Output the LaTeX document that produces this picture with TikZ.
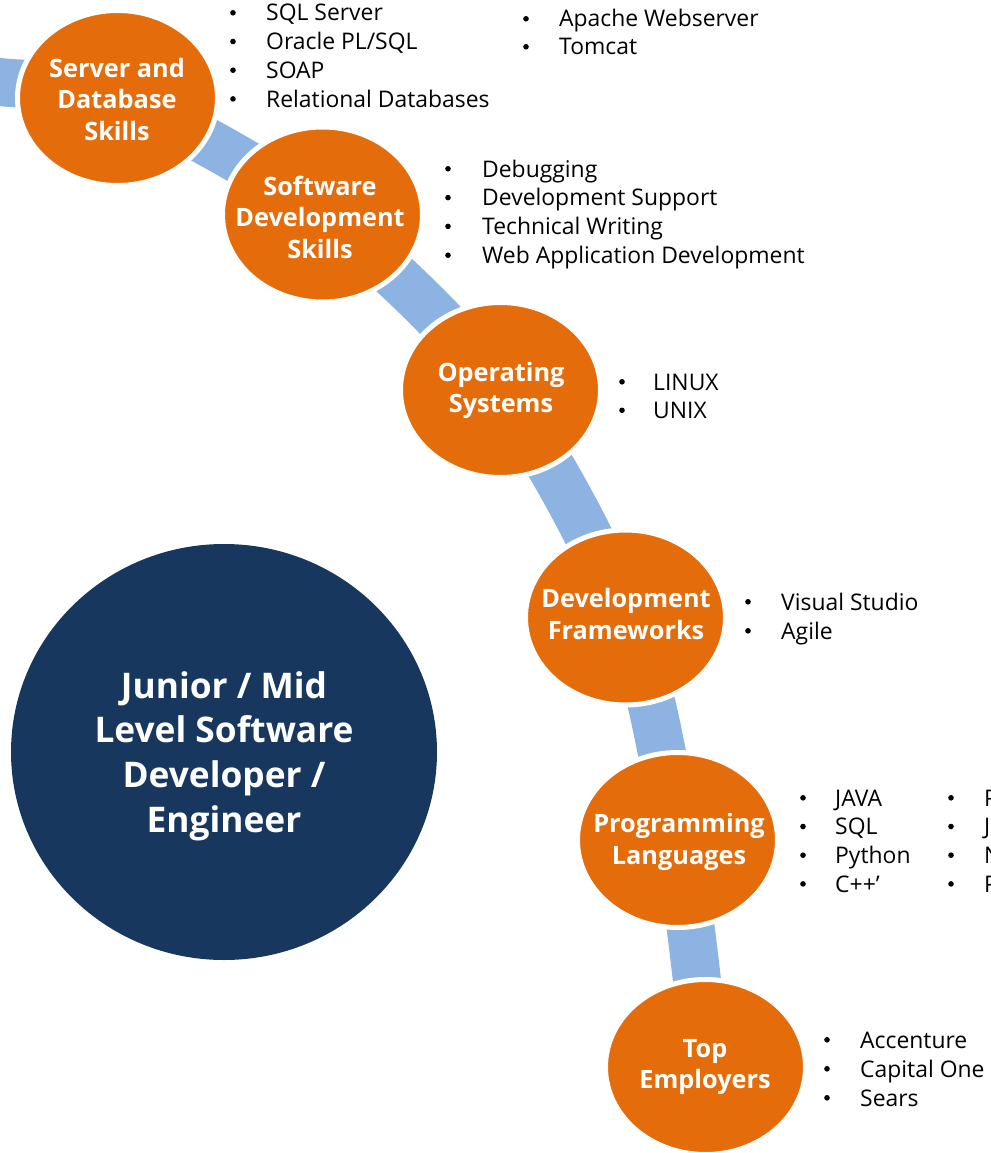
\documentclass[tikz,border=0pt]{standalone}
\usepackage{fontspec}
\setmainfont{Open Sans}
\usetikzlibrary{shapes.geometric}
\definecolor{orangec}{HTML}{E46C0A}
\definecolor{navyc}{HTML}{17375E}
\definecolor{bandc}{HTML}{8DB3E2}
\tikzset{
  orb/.style={ellipse, fill=orangec, draw=white, line width=5pt, minimum width=200pt, minimum height=175pt, inner sep=0pt},
  orblabel/.style={text=white, font=\fontsize{25.3}{31.5}\selectfont\bfseries, align=center, inner sep=0pt},
  biglabel/.style={text=white, font=\fontsize{35.3}{44.7}\selectfont\bfseries, align=center, inner sep=0pt},
  bul/.style={circle, fill=black, inner sep=0pt, minimum size=5.6pt},
  itm/.style={anchor=base west, inner sep=0pt, font=\fontsize{22.9}{27}\selectfont},
  bandline/.style={draw=bandc, line width=48pt}
}
% #1 name, #2 bullet x, #3 text x, #4 first baseline, #5 spacing, #6 items
\newcommand\bulletlist[6]{%
  \foreach \t [count=\i from 0] in {#6} {
    \node[bul] (#1b\i) at ({#2},{#4+\i*#5-8.2}) {};
    \node[itm] (#1t\i) at ({#3},{#4+\i*#5}) {\t};
  }%
}
\begin{document}
\begin{tikzpicture}[x=1pt,y=-1pt]
\useasboundingbox (0,0) rectangle (990,1153);
\begin{scope}
\clip (0,0) rectangle (990,1153);
% band
\draw[bandline] plot[smooth, tension=0.55] coordinates {(-150,66) (0,82) (117.5,98) (322.5,214.5) (500.5,390) (625.5,617.5) (677.5,840) (705.5,1067) (712,1250)};
% orange circles
\node[orb] (sdb) at (117.5,98) {};
\node[orb] (sdev) at (322.5,214.5) {};
\node[orb] (os) at (500.5,390) {};
\node[orb] (fw) at (625.5,617.5) {};
\node[orb] (pl) at (677.5,840) {};
\node[orb] (te) at (705.5,1067) {};
% big circle
\node[ellipse, fill=navyc, minimum width=426pt, minimum height=416pt, inner sep=0pt] (big) at (224,752) {};
\end{scope}
% labels
\node[orblabel] (sdbt) at (117,99.5) {Server and\\Database\\Skills};
\node[orblabel] (sdevt) at (320,217) {Software\\Development\\Skills};
\node[orblabel] (ost) at (501,390.6) {Operating\\Systems};
\node[orblabel] (fwt) at (626,614) {Development\\Frameworks};
\node[orblabel] (plt) at (679,841.8) {Programming\\Languages};
\node[orblabel] (tet) at (705,1066.9) {Top\\Employers};
\node[biglabel] (bigt) at (224,756) {Junior / Mid\\Level Software\\Developer /\\Engineer};
% lists
\bulletlist{a}{233}{266}{21}{28.7}{SQL Server,Oracle PL/SQL,SOAP,Relational Databases}
\bulletlist{b}{526}{559}{27}{28}{Apache Webserver,Tomcat}
\bulletlist{c}{448}{482}{177}{28.8}{Debugging,Development Support,Technical Writing,Web Application Development}
\bulletlist{d}{622}{653}{390}{28.5}{LINUX,UNIX}
\bulletlist{e}{748}{781}{610}{29}{Visual Studio,Agile}
\bulletlist{f}{803}{835}{806}{28.7}{JAVA,SQL,Python,C++’}
\bulletlist{g}{951}{984}{806}{28.7}{P,J,N,P}
\bulletlist{h}{827}{860}{1048}{29}{Accenture,Capital One,Sears}
\end{tikzpicture}
\end{document}
